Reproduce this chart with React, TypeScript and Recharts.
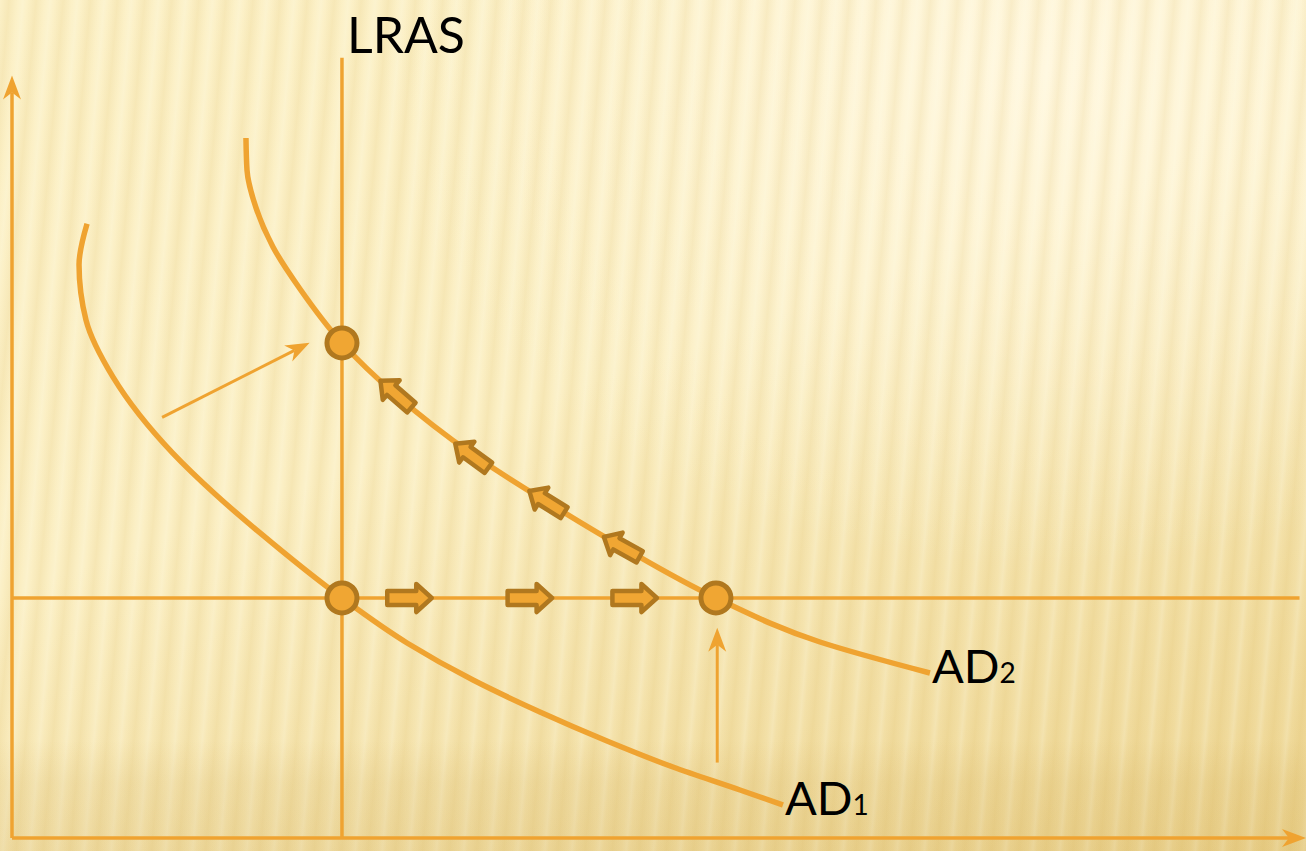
import { ComposedChart, Line, Scatter, XAxis, YAxis, ReferenceLine } from "recharts";

const ORANGE = "#EFA331";
const DARK = "#B0781F";

const ad1 = [
  { q: 5.8, p: 73.3 },
  { q: 5.18, p: 68.4 },
  { q: 5.72, p: 61.8 },
  { q: 7.81, p: 55.0 },
  { q: 12.44, p: 45.9 },
  { q: 15.69, p: 41.05 },
  { q: 19.17, p: 36.4 },
  { q: 25.5, p: 28.64 },
  { q: 30.53, p: 23.27 },
  { q: 35.63, p: 18.85 },
  { q: 40.8, p: 15.04 },
  { q: 45.98, p: 11.58 },
  { q: 51.08, p: 8.47 },
  { q: 56.26, p: 5.73 },
  { q: 59.58, p: 3.94 },
];

const ad2 = [
  { q: 18.08, p: 83.53 },
  { q: 18.16, p: 79.71 },
  { q: 18.86, p: 75.18 },
  { q: 20.17, p: 70.53 },
  { q: 22.26, p: 65.51 },
  { q: 25.5, p: 59.07 },
  { q: 29.68, p: 52.86 },
  { q: 35.55, p: 45.82 },
  { q: 41.34, p: 40.1 },
  { q: 47.14, p: 34.73 },
  { q: 54.4, p: 28.64 },
  { q: 62.44, p: 23.39 },
  { q: 70.94, p: 19.69 },
];

const lras = [
  { q: 25.5, p: 0 },
  { q: 25.5, p: 93.1 },
];

const priceLine = [
  { q: 0, p: 28.64 },
  { q: 99.5, p: 28.64 },
];

const equilibria = [
  { q: 25.5, p: 28.64 },
  { q: 25.5, p: 59.07 },
  { q: 54.4, p: 28.64 },
];

// dir = heading in degrees (0 = right)
const outputArrows = [
  { q: 30.7, p: 28.64, dir: 0 },
  { q: 40.0, p: 28.64, dir: 0 },
  { q: 48.1, p: 28.64, dir: 0 },
];

const priceArrows = [
  { q: 29.68, p: 52.95, dir: 221 },
  { q: 35.55, p: 45.6, dir: 216 },
  { q: 41.34, p: 40.1, dir: 212 },
  { q: 47.14, p: 34.73, dir: 209 },
];

const curveLabels = [
  { q: 59.58, p: 3.94, text: "AD", sub: "1" },
  { q: 70.94, p: 19.69, text: "AD", sub: "2" },
];

const lrasLabel = [{ q: 25.5, p: 93.1, text: "LRAS", sub: "" }];

const yAxisTop = 91;
const xAxisEnd = 100;
const shiftArrow = [
  { q: 11.6, p: 50.2 },
  { q: 23.0, p: 59.1 },
];
const riseArrow = [
  { q: 54.5, p: 9.0 },
  { q: 54.5, p: 25.1 },
];

function ArrowLine(props: any) {
  const { x1, y1, x2, y2 } = props;
  const len = Math.hypot(x2 - x1, y2 - y1) || 1;
  const ux = (x2 - x1) / len;
  const uy = (y2 - y1) / len;
  const px = -uy;
  const py = ux;
  const L = 24;
  const W = 9;
  const N = 17;
  const bx = x2 - ux * L;
  const by = y2 - uy * L;
  const nx = x2 - ux * N;
  const ny = y2 - uy * N;
  return (
    <g>
      <line x1={x1} y1={y1} x2={nx} y2={ny} stroke={ORANGE} strokeWidth={props.width || 3} />
      <path
        d={`M${x2},${y2}L${bx + px * W},${by + py * W}L${nx},${ny}L${bx - px * W},${by - py * W}Z`}
        fill={ORANGE}
      />
    </g>
  );
}

const blockArrow = (scale: number) => (props: any) => {
  const { cx, cy, payload } = props;
  return (
    <path
      d="M-22,-7H7V-14L22.5,0L7,14V7H-22Z"
      transform={`translate(${cx},${cy}) rotate(${payload.dir}) scale(${scale})`}
      fill="#F0A633"
      stroke={DARK}
      strokeWidth={4.5 / scale}
      strokeLinejoin="round"
    />
  );
};

const dotShape = (props: any) => (
  <circle cx={props.cx} cy={props.cy} r={15} fill="#F0A633" stroke={DARK} strokeWidth={5} />
);

const labelShape = (dx: number, dy: number, size: number) => (props: any) => {
  const { cx, cy, payload } = props;
  return (
    <text x={cx + dx} y={cy + dy} fontSize={size} fontFamily="Lato, 'Noto Sans', sans-serif" fill="#000">
      {payload.text}
      {payload.sub ? <tspan fontSize={28}>{payload.sub}</tspan> : null}
    </text>
  );
};

export default function App() {
  return (
    <div
      style={{
        position: "fixed",
        left: 0,
        top: 0,
        width: 1306,
        height: 851,
        overflow: "hidden",
        background: [
          "linear-gradient(180deg, rgba(190,150,60,0) 0%, rgba(190,150,60,0) 87%, rgba(190,150,60,0.1) 92%, rgba(190,150,60,0.14) 100%)",
          "repeating-linear-gradient(95deg, rgba(205,160,50,0) 0px, rgba(205,160,50,0.11) 9px, rgba(205,160,50,0) 18px, rgba(255,255,240,0.18) 23px, rgba(205,160,50,0) 27px)",
          "radial-gradient(ellipse at 80% 8%, #FFF7DE 0%, rgba(255,247,222,0) 45%)",
          "linear-gradient(160deg, #FCF1C8 0%, #FBEFC4 45%, #EDD592 100%)",
        ].join(","),
      }}
    >
      <ComposedChart width={1306} height={851} margin={{ top: 0, right: 0, bottom: 13, left: 12 }}>
        <XAxis type="number" dataKey="q" domain={[0, 100]} hide />
        <YAxis type="number" dataKey="p" domain={[0, 100]} hide />

        <ReferenceLine
          segment={[{ x: 0, y: 0 }, { x: 0, y: yAxisTop }]}
          ifOverflow="visible"
          shape={(p: any) => <ArrowLine {...p} width={3.5} />}
        />
        <ReferenceLine
          segment={[{ x: 0, y: 0 }, { x: xAxisEnd, y: 0 }]}
          ifOverflow="visible"
          shape={(p: any) => <ArrowLine {...p} width={3.5} />}
        />
        <ReferenceLine
          segment={[{ x: shiftArrow[0].q, y: shiftArrow[0].p }, { x: shiftArrow[1].q, y: shiftArrow[1].p }]}
          ifOverflow="visible"
          shape={(p: any) => <ArrowLine {...p} />}
        />
        <ReferenceLine
          segment={[{ x: riseArrow[0].q, y: riseArrow[0].p }, { x: riseArrow[1].q, y: riseArrow[1].p }]}
          ifOverflow="visible"
          shape={(p: any) => <ArrowLine {...p} />}
        />

        <Line data={priceLine} dataKey="p" type="linear" stroke={ORANGE} strokeWidth={3.5} dot={false} activeDot={false} isAnimationActive={false} />
        <Line data={lras} dataKey="p" type="linear" stroke={ORANGE} strokeWidth={3.5} dot={false} activeDot={false} isAnimationActive={false} />
        <Line data={ad1} dataKey="p" type="monotoneY" stroke={ORANGE} strokeWidth={5.5} dot={false} activeDot={false} isAnimationActive={false} />
        <Line data={ad2} dataKey="p" type="monotoneY" stroke={ORANGE} strokeWidth={5.5} dot={false} activeDot={false} isAnimationActive={false} />

        <Scatter data={outputArrows} dataKey="p" shape={blockArrow(1)} isAnimationActive={false} />
        <Scatter data={priceArrows} dataKey="p" shape={blockArrow(0.92)} isAnimationActive={false} />
        <Scatter data={equilibria} dataKey="p" shape={dotShape} isAnimationActive={false} />
        <Scatter data={curveLabels} dataKey="p" shape={labelShape(2, 10, 47)} isAnimationActive={false} />
        <Scatter data={lrasLabel} dataKey="p" shape={labelShape(5, -5, 50)} isAnimationActive={false} />
      </ComposedChart>
    </div>
  );
}
